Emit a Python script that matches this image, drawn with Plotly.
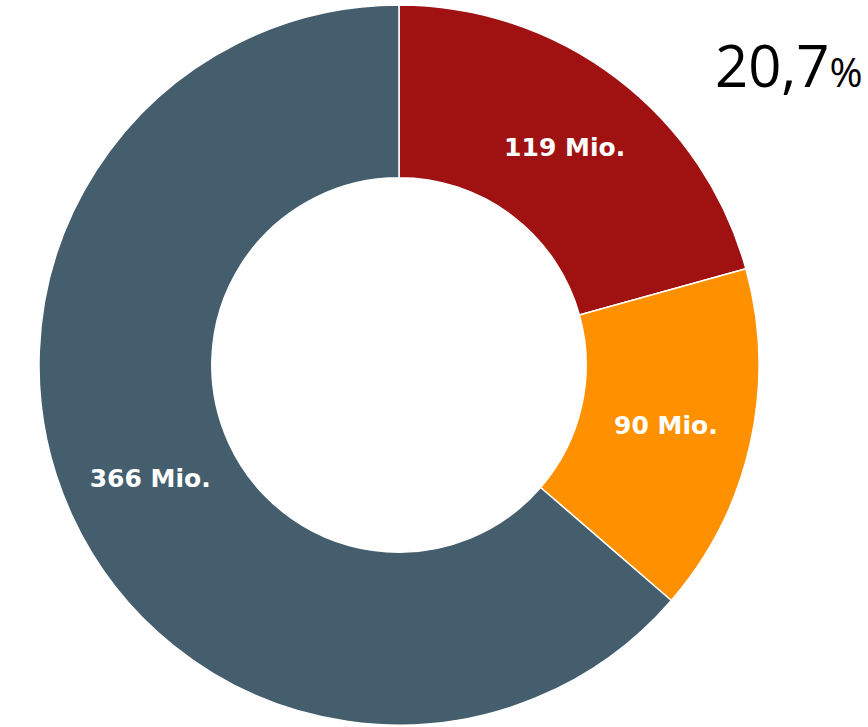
import plotly.graph_objects as go

categories = ["A", "B", "C"]
values = [119, 90, 366]
labels_text = ["119 Mio.", "90 Mio.", "366 Mio."]
colors = ["#A01212", "#FF9100", "#445E6E"]
share_label = "20,7"

W, H = 868, 727
cx, cy_top, d = 399, 365, 720
x0 = (cx - d / 2) / W
x1 = (cx + d / 2) / W
yb = (H - cy_top - d / 2) / H
yt = (H - cy_top + d / 2) / H

fig = go.Figure(go.Pie(
    labels=categories,
    values=values,
    text=labels_text,
    textinfo="text",
    hole=0.52,
    sort=False,
    direction="clockwise",
    rotation=0,
    marker=dict(colors=colors, line=dict(color="white", width=1.5)),
    textposition="inside",
    insidetextorientation="horizontal",
    textfont=dict(family="DejaVu Sans", size=25, color="white", weight="bold"),
    showlegend=False,
    domain=dict(x=[x0, x1], y=[max(yb, 0), min(yt, 1)]),
))

fig.add_annotation(
    x=0.997, y=0.968, xref="paper", yref="paper",
    xanchor="right", yanchor="top",
    text=share_label + "<span style='font-size:40px'>%</span>",
    showarrow=False,
    font=dict(family="Open Sans", size=58, color="black"),
)

fig.update_layout(
    width=W, height=H,
    margin=dict(l=0, r=0, t=0, b=0),
    paper_bgcolor="white",
    plot_bgcolor="white",
)

fig.write_html("out.html")
